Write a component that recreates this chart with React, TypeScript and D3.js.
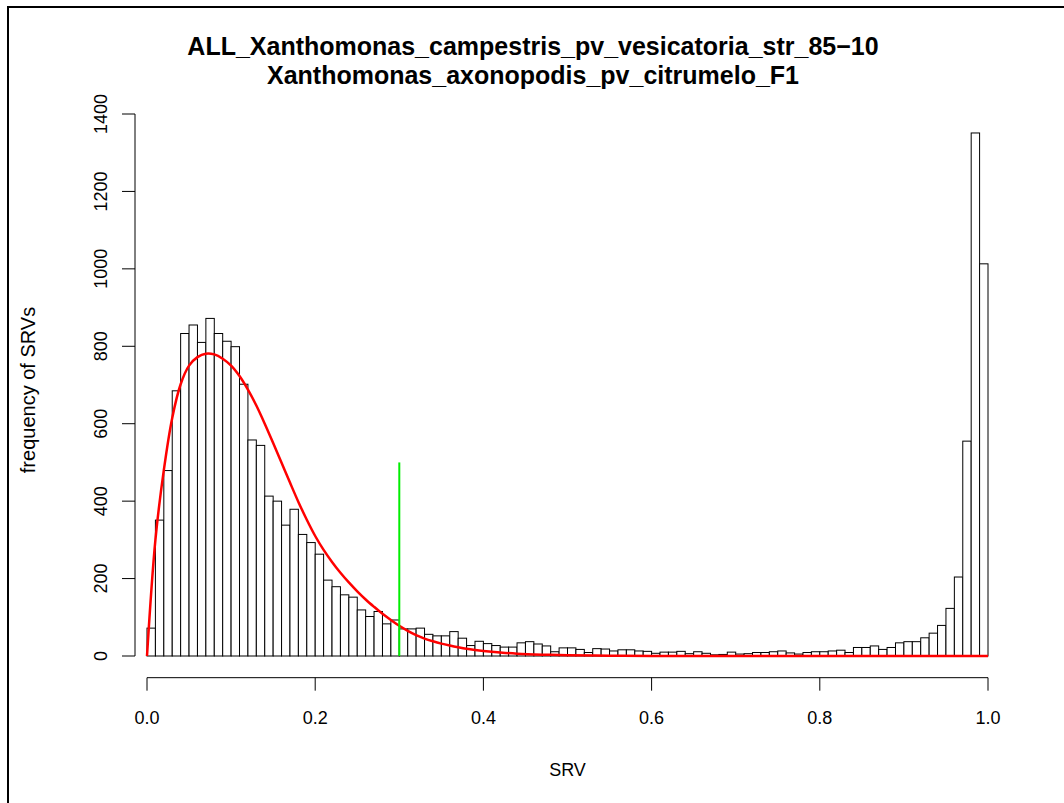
import React from "react";
import * as d3 from "d3";

const titleLines = [
  "ALL_Xanthomonas_campestris_pv_vesicatoria_str_85\u221210",
  "Xanthomonas_axonopodis_pv_citrumelo_F1",
];
const xLabel = "SRV";
const yLabel = "frequency of SRVs";

const binWidth = 0.01;
const counts = [
  72, 351, 479, 685, 833, 855, 810, 872, 833, 813,
  799, 702, 558, 544, 413, 400, 338, 379, 314, 293,
  263, 196, 179, 158, 152, 119, 102, 115, 83, 93,
  70, 70, 72, 56, 52, 52, 63, 46, 27, 38,
  32, 27, 23, 23, 34, 37, 31, 26, 11, 21,
  21, 17, 9, 19, 18, 13, 16, 16, 13, 12,
  7, 10, 10, 12, 6, 11, 7, 3, 4, 10,
  5, 6, 9, 9, 11, 13, 8, 5, 9, 11,
  11, 13, 15, 9, 22, 22, 26, 17, 22, 34,
  37, 37, 47, 59, 79, 123, 204, 555, 1351, 1013,
];

const curveX = [0, 0.01, 0.02, 0.03, 0.04, 0.05, 0.06, 0.07, 0.08, 0.09, 0.1, 0.11, 0.12, 0.13, 0.14, 0.15, 0.16, 0.17, 0.18, 0.19, 0.2, 0.21, 0.22, 0.23, 0.24, 0.25, 0.26, 0.27, 0.28, 0.29, 0.3, 0.31, 0.32, 0.33, 0.34, 0.35, 0.36, 0.37, 0.38, 0.39, 0.4, 0.42, 0.44, 0.47, 0.5, 0.55, 0.6, 0.7, 1.0];
const curveY = [0, 300, 480, 615, 702, 750, 772, 781, 779, 768, 750, 723, 688, 647, 600, 550, 499, 448, 398, 352, 310, 274, 243, 215, 190, 167, 146, 127, 109, 93, 78, 65, 54, 45, 38, 32, 27, 22.5, 18.5, 15.5, 13, 9, 6, 3.5, 2, 0.8, 0.3, 0.05, 0];

const cutoff = 0.3;
const cutoffTop = 500;

const xTicks = [0, 0.2, 0.4, 0.6, 0.8, 1.0];
const yTicks = [0, 200, 400, 600, 800, 1000, 1200, 1400];

export default function App() {
  const x = d3.scaleLinear().domain([0, 1]).range([147, 988]);
  const y = d3.scaleLinear().domain([0, 1400]).range([656, 114]);
  const axisX = 135;
  const axisY = y(-56);
  const font = "'Liberation Sans', Arial, Helvetica, sans-serif";

  const line = d3
    .line<number>()
    .x((_, i) => x(curveX[i]))
    .y((d) => y(d))
    .curve(d3.curveCatmullRom.alpha(0.5));

  return (
    <svg
      width={1064}
      height={803}
      style={{ position: "absolute", left: 0, top: 0, background: "#fff" }}
      fontFamily={font}
    >
      <rect x={0} y={0} width={1064} height={803} fill="#fff" />
      <path d="M8,803 V7 H1064" fill="none" stroke="#000" strokeWidth={2} />
      {titleLines.map((t, i) => (
        <text
          key={i}
          x={533}
          y={55 + i * 29}
          textAnchor="middle"
          fontWeight="bold"
          fontSize={25}
          fill="#000"
        >
          {t}
        </text>
      ))}
      {counts.map((c, i) => (
        <rect
          key={i}
          x={x(i * binWidth)}
          y={y(c)}
          width={x((i + 1) * binWidth) - x(i * binWidth)}
          height={y(0) - y(c)}
          fill="#fff"
          stroke="#000"
          strokeWidth={1}
        />
      ))}
      <path d={line(curveY) || ""} fill="none" stroke="#ff0000" strokeWidth={2.5} />
      <line
        x1={x(cutoff)}
        x2={x(cutoff)}
        y1={y(0)}
        y2={y(cutoffTop)}
        stroke="#00ee00"
        strokeWidth={2}
      />
      {/* x axis */}
      <line x1={x(0)} x2={x(1)} y1={axisY} y2={axisY} stroke="#000" />
      {xTicks.map((t) => (
        <g key={t}>
          <line x1={x(t)} x2={x(t)} y1={axisY} y2={axisY + 13} stroke="#000" />
          <text x={x(t)} y={axisY + 46} textAnchor="middle" fontSize={18} fill="#000">
            {t.toFixed(1)}
          </text>
        </g>
      ))}
      <text x={567.5} y={776} textAnchor="middle" fontSize={18} fill="#000">
        {xLabel}
      </text>
      {/* y axis */}
      <line x1={axisX} x2={axisX} y1={y(0)} y2={y(1400)} stroke="#000" />
      {yTicks.map((t) => (
        <g key={t}>
          <line x1={axisX} x2={axisX - 13} y1={y(t)} y2={y(t)} stroke="#000" />
          <text
            transform={`translate(${axisX - 28},${y(t)}) rotate(-90)`}
            textAnchor="middle"
            fontSize={18}
            fill="#000"
          >
            {t}
          </text>
        </g>
      ))}
      <text
        transform={`translate(35,390) rotate(-90)`}
        textAnchor="middle"
        fontSize={20}
        fill="#000"
      >
        {yLabel}
      </text>
    </svg>
  );
}
